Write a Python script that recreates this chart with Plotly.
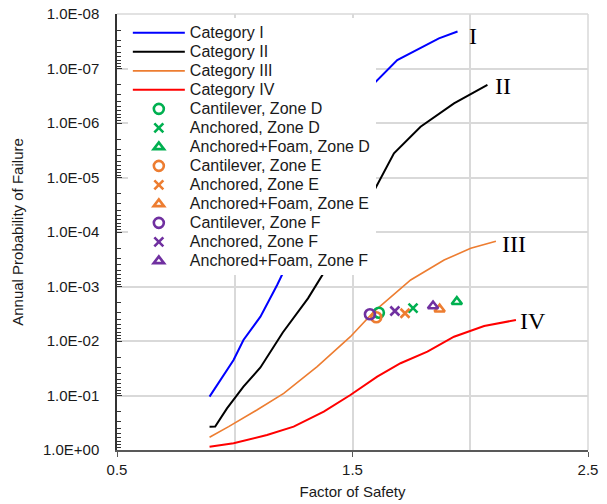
import math
import plotly.graph_objects as go

# ---- data ----
cat1_fs = [0.893, 0.995, 1.037, 1.109, 1.180, 1.239, 1.35, 1.45, 1.52, 1.586, 1.690, 1.867, 1.946]
cat1_pf = [0.105, 0.0223, 0.0096, 0.00358, 0.000938, 0.000284, 2.8e-5, 3.5e-6, 7.9e-7, 2.0e-7, 7.0e-8, 2.8e-8, 2.1e-8]

cat2_fs = [0.893, 0.917, 0.967, 1.037, 1.109, 1.204, 1.311, 1.420, 1.50, 1.586, 1.676, 1.789, 1.931, 2.073]
cat2_pf = [0.373, 0.371, 0.172, 0.0689, 0.0306, 0.00698, 0.00165, 0.000284, 7.9e-5, 1.95e-5, 3.6e-6, 1.17e-6, 4.36e-7, 2.0e-7]

cat3_fs = [0.893, 0.974, 1.094, 1.208, 1.350, 1.491, 1.591, 1.633, 1.747, 1.889, 2.002, 2.109]
cat3_pf = [0.585, 0.373, 0.1845, 0.0912, 0.0296, 0.00834, 0.0029, 0.00203, 0.00076, 0.000327, 0.000199, 0.000148]

cat4_fs = [0.893, 0.995, 1.137, 1.250, 1.378, 1.491, 1.605, 1.704, 1.818, 1.931, 2.059, 2.194]
cat4_pf = [0.869, 0.753, 0.531, 0.373, 0.198, 0.098, 0.0452, 0.0256, 0.0157, 0.00834, 0.00531, 0.00412]

point_names = ["Cantilever, Zone D", "Anchored, Zone D", "Anchored+Foam, Zone D",
               "Cantilever, Zone E", "Anchored, Zone E", "Anchored+Foam, Zone E",
               "Cantilever, Zone F", "Anchored, Zone F", "Anchored+Foam, Zone F"]
point_fs = [1.612, 1.757, 1.943, 1.601, 1.723, 1.870, 1.574, 1.680, 1.842]
point_pf = [3.03e-3, 2.5e-3, 1.9e-3, 3.67e-3, 3.1e-3, 2.61e-3, 3.24e-3, 2.82e-3, 2.28e-3]

y_tickvals = [1e-8, 1e-7, 1e-6, 1e-5, 1e-4, 1e-3, 1e-2, 1e-1, 1e0]
y_ticktext = ["1.0E-08", "1.0E-07", "1.0E-06", "1.0E-05", "1.0E-04",
              "1.0E-03", "1.0E-02", "1.0E-01", "1.0E+00"]

curve_labels = ["I", "II", "III", "IV"]
label_fs = [2.011, 2.137, 2.186, 2.265]
label_pf = [2.75e-8, 2.25e-7, 1.81e-4, 4.6e-3]

# ---- styles ----
GREEN, ORANGE, PURPLE = "#00B050", "#ED7D31", "#7030A0"
line_styles = [("Category I", "#0000FF", 2), ("Category II", "#000000", 2),
               ("Category III", ORANGE, 1.6), ("Category IV", "#FF0000", 2)]
pt_colors = [GREEN] * 3 + [ORANGE] * 3 + [PURPLE] * 3
pt_symbols = ["circle-open", "x-thin-open", "triangle-up-open"] * 3
pt_sizes = [10, 9, 9] * 3
LEG = '<span style="font-size:16px">{}</span>'

fig = go.Figure()
for (name, col, w), xs, ys in zip(line_styles,
                                  [cat1_fs, cat2_fs, cat3_fs, cat4_fs],
                                  [cat1_pf, cat2_pf, cat3_pf, cat4_pf]):
    fig.add_trace(go.Scatter(x=xs, y=ys, mode="lines", name=LEG.format(name),
                             line=dict(color=col, width=w)))

for i, name in enumerate(point_names):
    fig.add_trace(go.Scatter(x=[point_fs[i]], y=[point_pf[i]], mode="markers",
                             name=LEG.format(name),
                             marker=dict(symbol=pt_symbols[i], size=pt_sizes[i],
                                         color=pt_colors[i],
                                         line=dict(color=pt_colors[i], width=2.6))))

for t, xv, yv in zip(curve_labels, label_fs, label_pf):
    fig.add_annotation(x=xv, y=math.log10(yv), text=t, showarrow=False,
                       xanchor="center", yanchor="middle", yshift=2,
                       font=dict(family="Liberation Serif", size=24, color="black"))

GRID = "#D9D9D9"
fig.update_layout(
    width=607, height=504,
    margin=dict(l=117, r=19, t=14, b=54),
    paper_bgcolor="white", plot_bgcolor="white",
    font=dict(family="Liberation Sans, Arial", size=15, color="#1a1a1a"),
    showlegend=True,
    legend=dict(x=0.023, y=0.99, xanchor="left", yanchor="top",
                bgcolor="white", borderwidth=0, itemwidth=52,
                font=dict(size=12, color="#1a1a1a"), tracegroupgap=0),
    xaxis=dict(range=[0.5, 2.5], tick0=0.5, dtick=1, automargin=False,
               showgrid=True, gridcolor=GRID, gridwidth=1.5,
               ticks="outside", ticklen=5, tickcolor="#595959",
               showline=True, linecolor="#595959", linewidth=1.5,
               tickfont=dict(size=15),
               minor=dict(tick0=0.5, dtick=0.5, showgrid=True, gridcolor=GRID,
                          gridwidth=1.5, ticks=""),
               title=dict(text="Factor of Safety", font=dict(size=15), standoff=10),
               zeroline=False),
    yaxis=dict(type="log", range=[0, -8], tickmode="array", automargin=False,
               tickvals=y_tickvals, ticktext=y_ticktext,
               showgrid=True, gridcolor=GRID, gridwidth=1.5,
               ticks="inside", ticklen=5, tickcolor="#333",
               ticklabelstandoff=13, tickfont=dict(size=15),
               showline=True, linecolor="#333", linewidth=1.5,
               minor=dict(tickmode="array",
                          tickvals=[k * 10 ** e for e in range(-8, 0) for k in range(2, 10)],
                          ticks="inside", ticklen=4, tickcolor="#333", showgrid=False),
               title=dict(text="Annual Probability of Failure", font=dict(size=15), standoff=16),
               zeroline=False),
)
fig.add_shape(type="line", xref="paper", yref="paper", x0=0, x1=1, y0=1, y1=1,
              line=dict(color=GRID, width=1.5), layer="below")
fig.add_shape(type="line", xref="paper", yref="paper", x0=1, x1=1, y0=0, y1=1,
              line=dict(color=GRID, width=1.5), layer="below")

fig.write_html("out.html")
